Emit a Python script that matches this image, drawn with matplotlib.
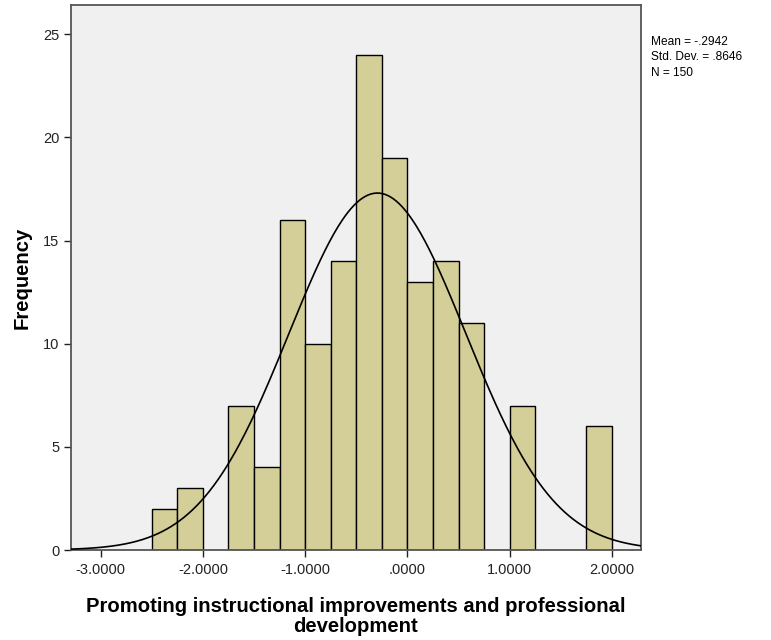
import numpy as np
import matplotlib.pyplot as plt

# histogram bins (width .25) and counts
bin_edges = [-2.5, -2.25, -2.0, -1.75, -1.5, -1.25, -1.0, -0.75, -0.5, -0.25,
             0.0, 0.25, 0.5, 0.75, 1.0, 1.25, 1.5, 1.75, 2.0]
counts = [2, 3, 0, 7, 4, 16, 10, 14, 24, 19, 13, 14, 11, 0, 7, 0, 0, 6]
mean = -0.2942
std = 0.8646
n = 150
x_ticks = [-3.0, -2.0, -1.0, 0.0, 1.0, 2.0]
x_tick_labels = ["-3.0000", "-2.0000", "-1.0000", ".0000", "1.0000", "2.0000"]
y_ticks = [0, 5, 10, 15, 20, 25]

plt.rcParams['font.family'] = ['Liberation Sans', 'DejaVu Sans']

fig = plt.figure(figsize=(7.71, 6.4), dpi=100)
ax = fig.add_axes([0.092, 0.1406, 0.739, 0.851])
ax.set_facecolor('#f0f0f0')

lefts = np.array(bin_edges[:-1])
widths = np.diff(bin_edges)
for l, w, c in zip(lefts, widths, counts):
    if c > 0:
        ax.bar(l, c, width=w, align='edge', color='#d4cf98',
               edgecolor='black', linewidth=1.0, zorder=2)

# normal curve scaled to counts
bw = widths[0]
xs = np.linspace(-3.29, 2.28, 400)
ys = n * bw / (std * np.sqrt(2 * np.pi)) * np.exp(-0.5 * ((xs - mean) / std) ** 2)
ax.plot(xs, ys, color='black', linewidth=1.2, zorder=3)

ax.set_xlim(-3.29, 2.28)
ax.set_ylim(0, 26.4)
ax.set_xticks(x_ticks)
ax.set_xticklabels(x_tick_labels)
ax.set_yticks(y_ticks)
ax.tick_params(labelsize=10.5, colors='#222222', length=5, width=1)
ax.tick_params(axis='x', pad=4)
for s in ax.spines.values():
    s.set_color('#555555')
    s.set_linewidth(1.3)

lab_font = dict(fontsize=14.6, fontweight='bold')
ax.set_ylabel("Frequency", labelpad=8, **lab_font)
ax.set_xlabel("Promoting instructional improvements and professional\ndevelopment",
              labelpad=15, linespacing=1.05, **lab_font)

fig.text(0.844, 0.944, "Mean = -.2942\nStd. Dev. = .8646\nN = 150",
         fontsize=8.6, va='top', ha='left', linespacing=1.38)

fig.savefig('out.png', dpi=100)
